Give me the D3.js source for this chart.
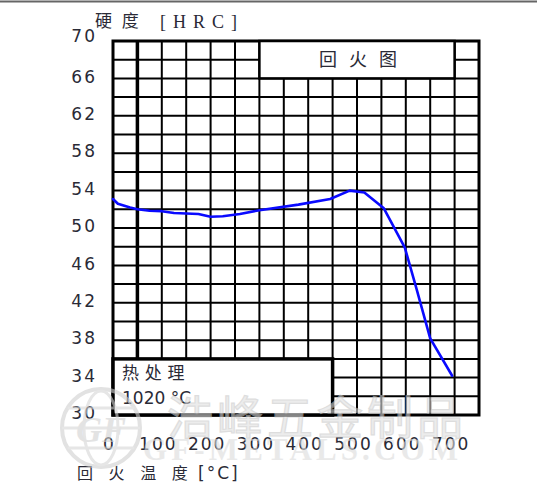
<!DOCTYPE html>
<html>
<head>
<meta charset="utf-8">
<script src="https://cdn.jsdelivr.net/npm/d3@7"></script>
<style>
  body { margin: 0; background: #fff; }
  svg { display: block; }
</style>
</head>
<body>
<div id="chart"></div>
<script>
// tempering curve
const temps = [0, 10, 35, 50, 75, 100, 125, 175, 200, 225, 260, 300, 380, 445, 485, 515, 555, 598, 622, 650, 695];
const hardness = [53.1, 52.6, 52.2, 52.0, 51.85, 51.8, 51.6, 51.5, 51.2, 51.25, 51.5, 51.9, 52.5, 53.1, 54.0, 53.8, 52.1, 47.9, 43.5, 38.2, 34.2];
const xTicks = [0, 100, 200, 300, 400, 500, 600, 700];
const yTicks = [70, 66, 62, 58, 54, 50, 46, 42, 38, 34, 30];
const yTitle = '硬 度';
const yUnit = '[HRC]';
const xTitle = '回 火 温 度';
const xUnit = '[°C]';
const chartTitle = '回 火 图';
const treatLines = ['热 处 理', '1020 °C'];

const W = 540, H = 483;
const x = d3.scaleLinear().domain([0, 750]).range([113, 479]);
const y = d3.scaleLinear().domain([30, 70]).range([415, 41]);
const ink = '#2a2a36';

const svg = d3.select('#chart').append('svg')
  .attr('width', W)
  .attr('height', H);

svg.append('rect').attr('width', W).attr('height', H).attr('fill', '#fff');

// thin rule along the top of the image
svg.append('line')
  .attr('x1', 0).attr('x2', 537).attr('y1', 1.5).attr('y2', 1.5)
  .attr('stroke', '#666').attr('stroke-width', 2);

// grid
const g = svg.append('g');
g.selectAll('.vl')
  .data(d3.range(50, 750, 50))
  .join('line')
  .attr('x1', d => x(d)).attr('x2', d => x(d))
  .attr('y1', y(70)).attr('y2', y(30))
  .attr('stroke', '#000')
  .attr('stroke-width', d => d === 50 ? 3.5 : 2);

g.selectAll('.hl')
  .data(d3.range(32, 70, 2))
  .join('line')
  .attr('x1', x(0)).attr('x2', x(750))
  .attr('y1', d => y(d)).attr('y2', d => y(d))
  .attr('stroke', '#000')
  .attr('stroke-width', 2);

g.append('rect')
  .attr('x', x(0)).attr('y', y(70))
  .attr('width', x(750) - x(0)).attr('height', y(30) - y(70))
  .attr('fill', 'none').attr('stroke', '#000').attr('stroke-width', 3);

// title box
svg.append('rect')
  .attr('x', x(300)).attr('y', y(70))
  .attr('width', x(700) - x(300)).attr('height', y(66) - y(70))
  .attr('fill', '#fff').attr('stroke', '#000').attr('stroke-width', 2.5);

svg.append('text')
  .attr('x', (x(300) + x(700)) / 2 + 3).attr('y', (y(70) + y(66)) / 2)
  .attr('dy', '0.36em')
  .attr('text-anchor', 'middle')
  .attr('font-family', '"Noto Sans CJK SC", sans-serif')
  .attr('font-size', 18)
  .attr('letter-spacing', 4)
  .attr('fill', ink)
  .text(chartTitle);

// heat treatment box
svg.append('rect')
  .attr('x', x(0)).attr('y', y(36))
  .attr('width', x(450) - x(0)).attr('height', y(30) - y(36))
  .attr('fill', '#fff').attr('stroke', '#000').attr('stroke-width', 3.5);

svg.selectAll('.treat')
  .data(treatLines)
  .join('text')
  .attr('x', x(0) + 9)
  .attr('y', (d, i) => y(36) + 20 + i * 25)
  .attr('font-family', (d, i) => i === 0 ? '"Noto Sans CJK SC", sans-serif' : '"DejaVu Sans", sans-serif')
  .attr('font-size', 17)
  .attr('letter-spacing', (d, i) => i === 0 ? 1 : 0)
  .attr('fill', ink)
  .text(d => d);

// hardness curve
const line = d3.line()
  .x(d => x(d[0]))
  .y(d => y(d[1]));

svg.append('path')
  .datum(temps.map((t, i) => [t, hardness[i]]))
  .attr('fill', 'none')
  .attr('stroke', '#0a0aff')
  .attr('stroke-width', 2.6)
  .attr('stroke-linejoin', 'round')
  .attr('stroke-linecap', 'round')
  .attr('d', line);

// axes (labels only)
const yAxis = svg.append('g')
  .attr('transform', `translate(${x(0)},0)`)
  .call(d3.axisLeft(y).tickValues(yTicks).tickSize(0).tickPadding(16).tickFormat(d3.format('d')));
yAxis.select('.domain').remove();
yAxis.selectAll('text')
  .attr('font-family', '"DejaVu Sans", sans-serif')
  .attr('font-size', 17)
  .attr('letter-spacing', 2)
  .attr('fill', ink)
  .attr('dy', d => d === 70 ? '0.05em' : '0.22em');

const xAxis = svg.append('g')
  .attr('transform', `translate(0,${y(30)})`)
  .call(d3.axisBottom(x).tickValues(xTicks).tickSize(0).tickPadding(23).tickFormat(d3.format('d')));
xAxis.select('.domain').remove();
xAxis.selectAll('text')
  .attr('font-family', '"DejaVu Sans", sans-serif')
  .attr('font-size', 17)
  .attr('letter-spacing', 2)
  .attr('fill', ink)
  .attr('dx', -4);

// axis titles
svg.append('text')
  .attr('x', 95).attr('y', 27)
  .attr('font-family', '"Noto Sans CJK SC", sans-serif')
  .attr('font-size', 17)
  .attr('letter-spacing', 3)
  .attr('fill', ink)
  .text(yTitle);
svg.append('text')
  .attr('x', 160).attr('y', 28)
  .attr('font-family', '"Liberation Serif", serif')
  .attr('font-size', 18)
  .attr('letter-spacing', 7)
  .attr('fill', ink)
  .text(yUnit);

svg.append('text')
  .attr('x', 77).attr('y', 479)
  .attr('font-family', '"Noto Sans CJK SC", sans-serif')
  .attr('font-size', 16)
  .attr('letter-spacing', 6)
  .attr('fill', ink)
  .text(xTitle);
svg.append('text')
  .attr('x', 198).attr('y', 479)
  .attr('font-family', '"DejaVu Sans", sans-serif')
  .attr('font-size', 17)
  .attr('letter-spacing', 2)
  .attr('fill', ink)
  .text(xUnit);

// watermark, a pale overlay
const wm = svg.append('g').attr('opacity', 0.6).attr('pointer-events', 'none');
wm.append('circle')
  .attr('cx', 101).attr('cy', 428).attr('r', 39)
  .attr('fill', 'none').attr('stroke', '#cfcfcf').attr('stroke-width', 4);
wm.append('ellipse')
  .attr('cx', 101).attr('cy', 428).attr('rx', 17).attr('ry', 37)
  .attr('fill', 'none').attr('stroke', '#d6d6d6').attr('stroke-width', 3);
wm.selectAll('.lat')
  .data([-20, 0, 20])
  .join('line')
  .attr('x1', d => 101 - Math.sqrt(39 * 39 - d * d))
  .attr('x2', d => 101 + Math.sqrt(39 * 39 - d * d))
  .attr('y1', d => 428 + d).attr('y2', d => 428 + d)
  .attr('stroke', '#d6d6d6').attr('stroke-width', 3);
wm.append('text')
  .attr('x', 101).attr('y', 442)
  .attr('text-anchor', 'middle')
  .attr('font-family', '"Liberation Serif", serif')
  .attr('font-style', 'italic').attr('font-weight', 'bold')
  .attr('font-size', 36)
  .attr('fill', '#d2d2d2')
  .text('GF');
wm.append('text')
  .attr('x', 167).attr('y', 434)
  .attr('textLength', 296).attr('lengthAdjust', 'spacing')
  .attr('font-family', '"Noto Sans CJK SC", sans-serif')
  .attr('font-size', 46)
  .attr('fill', '#e0e0e0')
  .attr('stroke', '#c8c8c8').attr('stroke-width', 1.2)
  .text('浩峰五金制品');
wm.append('text')
  .attr('x', 143).attr('y', 460)
  .attr('textLength', 315).attr('lengthAdjust', 'spacing')
  .attr('font-family', '"Liberation Serif", serif')
  .attr('font-weight', 'bold')
  .attr('font-size', 31)
  .attr('fill', '#dcdcdc')
  .text('GF-METALS.COM');
</script>
</body>
</html>
